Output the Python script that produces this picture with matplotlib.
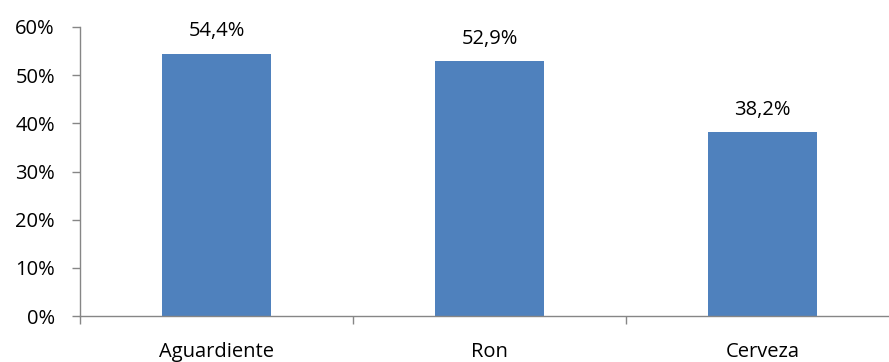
import matplotlib
matplotlib.use("Agg")
import matplotlib.pyplot as plt
from matplotlib.ticker import FixedLocator

categories = ["Aguardiente", "Ron", "Cerveza"]
values = [54.4, 52.9, 38.2]
yticks = [0, 10, 20, 30, 40, 50, 60]
ytick_labels = ["0%", "10%", "20%", "30%", "40%", "50%", "60%"]
value_labels = ["54,4%", "52,9%", "38,2%"]

plt.rcParams['font.family'] = ['Open Sans', 'DejaVu Sans']
FS = 14.5

fig = plt.figure(figsize=(8.89, 3.62), dpi=100)
ax = fig.add_axes([80/889, 46/362, 819/889, 289/362])

x = list(range(len(categories)))
bars = ax.bar(x, values, width=0.4, color="#4F81BD", zorder=2)

ax.set_xlim(-0.5, len(categories) - 0.5)
ax.set_ylim(0, 60)
ax.set_yticks(yticks)
ax.set_yticklabels(ytick_labels, fontsize=FS, color="#000000")
ax.set_xticks(x)
ax.set_xticklabels(categories, fontsize=FS, color="#000000")
ax.xaxis.set_minor_locator(FixedLocator([i - 0.5 for i in range(len(categories) + 1)]))
ax.tick_params(axis='x', which='major', length=0, pad=19)
ax.tick_params(axis='x', which='minor', length=6, width=1, color="#868686")
ax.tick_params(axis='y', length=6, width=1, color="#868686", pad=12)

for s in ["top", "right"]:
    ax.spines[s].set_visible(False)
for s in ["left", "bottom"]:
    ax.spines[s].set_color("#868686")
    ax.spines[s].set_linewidth(1.0)

for b, lab in zip(bars, value_labels):
    ax.annotate(lab, (b.get_x() + b.get_width() / 2, b.get_height()),
                xytext=(0, 9), textcoords="offset points",
                ha="center", va="bottom", fontsize=FS, color="#000000")

fig.savefig("out.png", dpi=100)
